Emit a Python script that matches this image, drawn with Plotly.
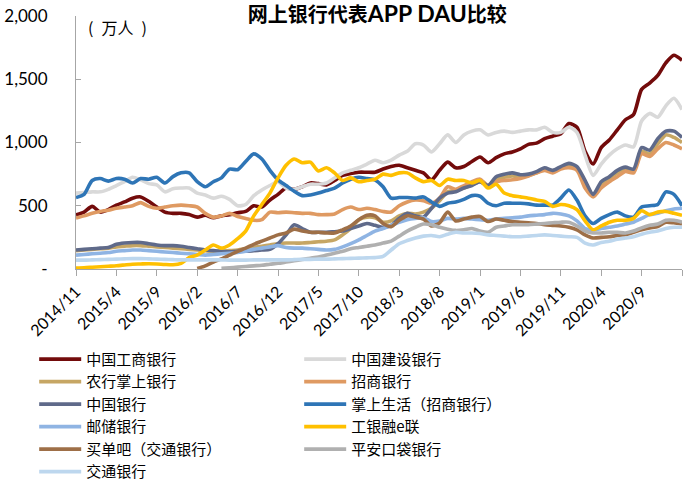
import plotly.graph_objects as go

months = []
y0, m0 = 2014, 11
for k in range(76):
    yy = y0 + (m0 - 1 + k) // 12
    mm = (m0 - 1 + k) % 12 + 1
    months.append(f"{yy}/{mm}")

tick_labels = ["2014/11", "2015/4", "2015/9", "2016/2", "2016/7", "2016/12", "2017/5",
               "2017/10", "2018/3", "2018/8", "2019/1", "2019/6", "2019/11", "2020/4",
               "2020/9", "2021/2"]
tick_text = tick_labels[:-1] + [""]

icbc = [427, 450, 495, 450, 470, 505, 530, 560, 570, 535, 490, 450, 440, 440, 430, 410,
        425, 405, 420, 430, 445, 455, 500, 490, 545, 590, 640, 630, 650, 680, 675, 665,
        700, 740, 755, 765, 765, 765, 790, 810, 820, 800, 780, 760, 705, 780, 845, 800,
        810, 850, 885, 840, 880, 910, 925, 950, 985, 995, 1030, 1050, 1070, 1150, 1120,
        930, 830, 960, 1020, 1100, 1180, 1220, 1420, 1470, 1530, 1630, 1690, 1650]
ccb = [600, 605, 610, 610, 630, 660, 690, 725, 705, 675, 665, 610, 635, 640, 640, 600,
       585, 560, 575, 550, 500, 510, 580, 625, 660, 690, 640, 630, 650, 670, 670, 680,
       720, 760, 780, 800, 830, 860, 840, 860, 900, 930, 990, 980, 925, 990, 1060, 1000,
       1060, 1090, 1100, 1060, 1080, 1090, 1080, 1090, 1100, 1100, 1120, 1080, 1080, 1120,
       1080, 900, 740, 830, 900, 950, 980, 965, 1170, 1230, 1200, 1290, 1350, 1260]
abc = [145, 150, 155, 160, 165, 175, 180, 185, 185, 180, 175, 170, 165, 160, 155, 150,
       145, 140, 140, 145, 150, 160, 170, 180, 190, 200, 205, 205, 205, 210, 215, 220,
       230, 270, 320, 390, 410, 405, 370, 380, 420, 440, 435, 450, 480, 540, 610, 620,
       640, 665, 690, 655, 710, 725, 735, 730, 740, 760, 790, 770, 800, 820, 795, 680,
       580, 670, 715, 760, 790, 775, 930, 910, 990, 1060, 1040, 1000]
cmb = [403, 420, 440, 455, 465, 480, 490, 500, 525, 495, 480, 490, 500, 505, 500, 490,
       440, 410, 420, 440, 415, 400, 385, 390, 450, 445, 450, 445, 440, 440, 430, 430,
       435, 470, 490, 470, 480, 470, 455, 450, 500, 530, 545, 540, 520, 560, 650, 630,
       660, 690, 710, 660, 690, 700, 705, 715, 735, 760, 780, 760, 790, 800, 780, 640,
       570, 640, 690, 730, 770, 760, 910, 890, 950, 1000, 980, 950]
boc = [150, 155, 160, 165, 170, 195, 205, 210, 210, 200, 190, 185, 185, 180, 170, 160,
       150, 145, 140, 135, 140, 140, 145, 150, 155, 200, 270, 350, 320, 290, 290, 290,
       295, 300, 320, 340, 360, 345, 330, 345, 400, 440, 420, 410, 480, 560, 600, 610,
       640, 660, 690, 660, 730, 750, 760, 745, 750, 770, 800, 780, 810, 835, 810, 700,
       590, 690, 730, 780, 805, 790, 960, 940, 1030, 1090, 1090, 1040]
cmb_life = [565, 590, 700, 715, 695, 715, 710, 680, 715, 710, 725, 680, 730, 760, 760, 690,
            650, 690, 720, 790, 785, 850, 910, 870, 780, 705, 660, 615, 580, 585, 600, 620,
            640, 680, 710, 725, 715, 705, 650, 560, 565, 565, 560, 570, 530, 495, 520, 530,
            550, 580, 575, 520, 500, 520, 520, 520, 515, 505, 505, 505, 560, 625, 545, 420,
            360, 400, 430, 450, 420, 410, 490, 500, 510, 610, 590, 500]
psbc = [110, 115, 120, 125, 130, 140, 145, 150, 150, 145, 140, 135, 130, 125, 120, 115,
        110, 115, 120, 125, 130, 140, 155, 165, 175, 185, 170, 165, 165, 160, 155, 150,
        155, 175, 200, 230, 265, 300, 320, 345, 370, 390, 400, 405, 375, 380, 400, 395,
        400, 395, 390, 385, 395, 400, 405, 410, 420, 425, 430, 440, 435, 420, 380, 320,
        310, 320, 330, 340, 355, 370, 400, 430, 440, 460, 475, 480]
icbc_e = [8, 10, 14, 18, 22, 26, 32, 38, 40, 42, 40, 36, 34, 45, 90, 110,
          150, 190, 165, 190, 240, 300, 420, 510, 600, 720, 820, 870, 840, 845, 775, 800,
          760, 700, 720, 690, 700, 710, 750, 740, 760, 760, 720, 690, 700, 660, 710, 700,
          700, 680, 700, 640, 670, 600, 580, 570, 560, 545, 535, 495, 510, 500, 470, 380,
          310, 340, 370, 385, 385, 400, 460, 430, 450, 455, 440, 425]
maidanba = [None] * 15 + [
            5, 25, 55, 80, 110, 140, 165, 195, 220, 245, 270, 285, 315, 300, 290, 290,
            285, 285, 310, 340, 390, 425, 420, 360, 335, 385, 420, 410, 395, 340, 365, 450,
            380, 395, 410, 415, 375, 395, 385, 375, 370, 365, 360, 350, 345, 340, 330, 310,
            270, 245, 250, 255, 265, 270, 290, 310, 325, 335, 370, 365, 355]
pingan = [None] * 18 + [
          5, 10, 15, 20, 25, 30, 38, 45, 55, 65, 75, 85, 95, 110,
          125, 140, 160, 170, 180, 190, 205, 220, 260, 300, 330, 355, 350, 330, 315, 305,
          310, 320, 300, 290, 330, 340, 350, 350, 350, 355, 360, 365, 370, 370, 340, 300,
          285, 285, 290, 290, 285, 300, 325, 345, 355, 385, 385, 370]
bocom = [70, 70, 72, 74, 76, 78, 80, 82, 82, 80, 78, 76, 74, 72, 72, 72,
         72, 72, 72, 70, 70, 70, 72, 72, 72, 72, 72, 74, 76, 76, 78, 78,
         80, 82, 84, 86, 88, 90, 100, 150, 200, 225, 245, 260, 265, 255, 275, 290,
         285, 285, 280, 270, 265, 260, 255, 255, 260, 265, 270, 265, 260, 255, 250, 205,
         190, 210, 220, 235, 245, 255, 275, 290, 300, 320, 330, 330]

series_names = ["中国工商银行", "中国建设银行", "农行掌上银行", "招商银行", "中国银行",
                "掌上生活（招商银行）", "邮储银行", "工银融e联", "买单吧（交通银行）",
                "平安口袋银行", "交通银行"]
series_values = [icbc, ccb, abc, cmb, boc, cmb_life, psbc, icbc_e, maidanba, pingan, bocom]
series_colors = ["#730B0B", "#D9D9D9", "#C6A664", "#DF9A62", "#5F6A8A", "#2E75B6",
                 "#8FB4E3", "#FFC000", "#9E6F47", "#B0B0B0", "#BDD7EE"]

fig = go.Figure()
for name, vals, col in zip(series_names, series_values, series_colors):
    fig.add_trace(go.Scatter(
        x=months, y=vals, name=name, mode="lines",
        line=dict(color=col, width=3.6, shape="spline", smoothing=0.7),
        connectgaps=False,
    ))

cjk = "Noto Sans CJK SC"
num = "Lato"

fig.update_layout(
    width=700, height=482,
    margin=dict(l=76, r=18, t=16, b=213, autoexpand=False),
    paper_bgcolor="white", plot_bgcolor="white",
    title=dict(text="<b>网上银行代表<span style='font-family:Lato;font-size:23px'>APP DAU</span>比较</b>",
               x=0.539, xanchor="center",
               y=1 - 15 / 482, yanchor="middle", yref="container",
               font=dict(family=cjk, size=20, color="#000000")),
    showlegend=True,
    legend=dict(orientation="h", x=-0.069, xanchor="left", y=-0.292, yanchor="top",
                entrywidth=208, entrywidthmode="pixels", traceorder="normal",
                font=dict(family=cjk, size=15, color="#000000"),
                bgcolor="rgba(0,0,0,0)", itemwidth=42, tracegroupgap=0),
    annotations=[dict(text="(\u2002万人\u2002)", x=0.016, y=0.957, xref="paper", yref="paper",
                      xanchor="left", yanchor="middle", showarrow=False,
                      font=dict(family=cjk, size=16, color="#000000"))],
)

fig.update_xaxes(
    type="category", range=[0, 75], automargin=False,
    tickmode="array", tickvals=tick_labels, ticktext=tick_text,
    tickangle=-45, ticks="outside", ticklen=6, tickcolor="#A6A6A6",
    showline=True, linecolor="#A6A6A6", linewidth=1, showgrid=False, zeroline=False,
    tickfont=dict(family=num, size=16, color="#000000"),
)
fig.update_yaxes(
    range=[0, 2000], automargin=False, tickmode="array", tickvals=[0, 500, 1000, 1500, 2000],
    ticktext=["-", "500", "1,000", "1,500", "2,000"],
    ticks="inside", ticklen=5, tickcolor="#A6A6A6",
    showline=True, linecolor="#A6A6A6", linewidth=1, showgrid=False, zeroline=False,
    tickfont=dict(family=num, size=17, color="#000000"), ticklabelstandoff=24,
)

fig.write_html("out.html", config={"displayModeBar": False},
               post_script="document.body.style.margin='0';")
